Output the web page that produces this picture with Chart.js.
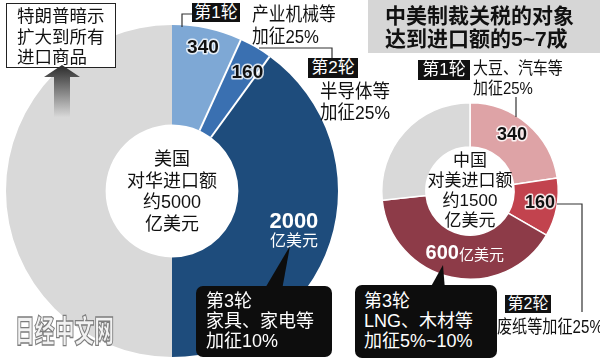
<!DOCTYPE html>
<html><head><meta charset="utf-8">
<script src="https://cdn.jsdelivr.net/npm/chart.js@4/dist/chart.umd.min.js"></script>
<style>
html,body{margin:0;padding:0;background:#fff;}
#wrap{position:relative;width:600px;height:361px;overflow:hidden;font-family:"Liberation Sans","Noto Sans CJK SC",sans-serif;color:#111;}
canvas{position:absolute;left:0;top:0;}
.t{position:absolute;white-space:nowrap;line-height:1;transform-origin:0 0;}
.blk{position:absolute;background:#111;color:#fff;white-space:nowrap;text-align:center;}
.box{position:absolute;background:#0d0d0d;color:#fff;border-radius:7px;white-space:nowrap;}
.center{position:absolute;text-align:center;white-space:nowrap;transform:translate(-50%,-50%);}
svg{position:absolute;left:0;top:0;}
</style></head>
<body>
<div id="wrap">
  <canvas id="us" width="600" height="361"></canvas>
  <canvas id="cn" width="600" height="361"></canvas>
  <svg width="600" height="361" viewBox="0 0 600 361">
    <defs>
      <linearGradient id="ag" x1="0" y1="0" x2="0" y2="1">
        <stop offset="0" stop-color="#2a2a2a"/>
        <stop offset="1" stop-color="#d8d8d8"/>
      </linearGradient>
    </defs>
    <g fill="none" stroke="#333" stroke-width="1.2">
      <polyline points="192,14 182,14 182,27"/>
      <polyline points="259,48 332,48 332,58"/>
      <polyline points="516,97 516,117"/>
      <polyline points="557,204 582,204 582,312"/>
    </g>
    <polygon points="290,246 264,290 282,290" fill="#0d0d0d"/>
    <polygon points="443,265 429,290 445,290" fill="#0d0d0d"/>
  </svg>

  <!-- top-left note -->
  <div style="position:absolute;left:6px;top:3px;width:108px;height:63px;border:1.6px solid #222;background:#fff;"></div>
  <div class="t" style="left:17px;top:5px;font-size:17.5px;line-height:20.5px;font-family:'Noto Sans CJK SC';">特朗普暗示<br>扩大到所有<br>进口商品</div>
  <svg width="600" height="361" viewBox="0 0 600 361">
    <polygon points="62,65 44,77 54,77 54,117 70,117 70,77 80,77" fill="url(#ag)"/>
  </svg>

  <!-- US round labels -->
  <div class="blk" style="left:192px;top:3px;width:48px;height:19px;font-size:17px;line-height:19px;font-family:'Liberation Sans','Noto Sans CJK SC';">第1轮</div>
  <div class="t" style="left:252px;top:4px;font-size:19px;line-height:22px;transform:scaleX(0.88);">产业机械等<br>加征25%</div>
  <div class="blk" style="left:308px;top:58px;width:50px;height:20px;font-size:17px;line-height:20px;">第2轮</div>
  <div class="t" style="left:320px;top:81px;font-size:19px;line-height:21px;transform:scaleX(0.92);">半导体等<br>加征25%</div>

  <div class="box" style="left:196px;top:286px;width:136px;height:71px;">
    <div class="t" style="left:10px;top:5px;font-size:18px;line-height:20px;">第3轮<br>家具、家电等<br>加征10%</div>
  </div>

  <!-- title -->
  <div style="position:absolute;left:368px;top:0;width:232px;height:53px;background:#d6d6d6;"></div>
  <div class="t" style="left:385px;top:3px;font-size:21px;line-height:23px;font-weight:700;font-family:'Noto Sans CJK SC';">中美制裁关税的对象<br><span style="font-family:'Liberation Sans','Noto Sans CJK SC';font-weight:700;">达到进口额的5~7成</span></div>

  <!-- China labels -->
  <div class="blk" style="left:418px;top:60px;width:52px;height:20px;font-size:17px;line-height:20px;">第1轮</div>
  <div class="t" style="left:473px;top:59px;font-size:17px;line-height:20px;transform:scaleX(0.88);">大豆、汽车等<br>加征25%</div>
  <div class="blk" style="left:505px;top:295px;width:46px;height:18px;font-size:16px;line-height:18px;">第2轮</div>
  <div class="t" style="left:497px;top:317px;font-size:18px;line-height:20px;transform:scaleX(0.84);">废纸等加征25%</div>

  <div class="box" style="left:355px;top:285px;width:142px;height:73px;">
    <div class="t" style="left:9px;top:6px;font-size:18px;line-height:20px;">第3轮<br>LNG、木材等<br>加征5%~10%</div>
  </div>

  <div id="usCenter" class="center" style="font-size:18px;line-height:21.5px;">美国<br>对华进口额<br>约5000<br>亿美元</div>
  <div id="cnCenter" class="center" style="font-size:17px;line-height:20px;">中国<br>对美进口额<br>约1500<br>亿美元</div>

  <div class="t" style="left:15px;top:313px;font-size:31px;line-height:31px;font-weight:900;font-family:'Noto Sans CJK SC';color:#f2f2f2;-webkit-text-stroke:1.3px #7d7d7d;transform:scaleX(0.64);">日经中文网</div>
</div>

<script>
// ---- data ----
const categories = ['第1轮', '第2轮', '第3轮', '其余'];
const usValues = [340, 160, 2000, 2500];   // 亿美元, total ≈ 5000
const cnValues = [340, 160, 600, 400];     // 亿美元, total ≈ 1500
const unitLabel = '亿美元';

const usColors = ['#7ea8d5', '#3a70b1', '#1e4c7c', '#d9d9d9'];
const cnColors = ['#dea3a6', '#c2434e', '#8d3b48', '#d9d9d9'];

const sliceLabels = {
  id: 'sliceLabels',
  afterDatasetsDraw(chart, args, opts) {
    const ctx = chart.ctx;
    const meta = chart.getDatasetMeta(0);
    (opts.separators || []).forEach(i => {
      const a = meta.data[i];
      const ang = a.endAngle;
      ctx.save();
      ctx.strokeStyle = '#fff';
      ctx.lineWidth = opts.sepWidth || 2;
      ctx.beginPath();
      ctx.moveTo(a.x + a.innerRadius * Math.cos(ang), a.y + a.innerRadius * Math.sin(ang));
      ctx.lineTo(a.x + a.outerRadius * Math.cos(ang), a.y + a.outerRadius * Math.sin(ang));
      ctx.stroke();
      ctx.restore();
    });
    (opts.labels || []).forEach(spec => {
      const a = meta.data[spec.index];
      const ang = a.startAngle + (a.endAngle - a.startAngle) * spec.af;
      const r = a.innerRadius + (a.outerRadius - a.innerRadius) * spec.rf;
      const cx = a.x + r * Math.cos(ang), cy = a.y + r * Math.sin(ang);
      const n = spec.lines.length;
      spec.lines.forEach((parts, k) => {
        const y = cy + (k - (n - 1) / 2) * spec.lh + (parts.dy || 0);
        let w = 0;
        parts.p.forEach(p => { ctx.font = p.font; w += ctx.measureText(p.text).width; });
        let x = cx - w / 2;
        parts.p.forEach(p => {
          ctx.save();
          ctx.font = p.font;
          ctx.textBaseline = 'middle';
          ctx.textAlign = 'left';
          if (p.halo) {
            ctx.lineWidth = 3; ctx.strokeStyle = p.halo; ctx.lineJoin = 'round';
            ctx.strokeText(p.text, x, y);
          }
          ctx.fillStyle = p.color;
          ctx.fillText(p.text, x, y);
          x += ctx.measureText(p.text).width;
          ctx.restore();
        });
      });
    });
  }
};

const NUMF = 'bold 19px "Liberation Sans", Arial, sans-serif';
const CJK = '"Noto Sans CJK SC", sans-serif';

const usChart = new Chart(document.getElementById('us'), {
  type: 'doughnut',
  data: { labels: categories, datasets: [{ data: usValues, backgroundColor: usColors, borderWidth: 0 }] },
  options: {
    responsive: false, animation: false, cutout: '40%', rotation: 0,
    layout: { padding: { left: 6, top: 25, right: 262, bottom: 4 } },
    plugins: {
      legend: { display: false }, tooltip: { enabled: false },
      sliceLabels: {
        separators: [0, 1], sepWidth: 2,
        labels: [
          { index: 0, af: 0.5, rf: 0.8, lh: 20, lines: [{ p: [{ text: String(usValues[0]), font: NUMF, color: '#111', halo: 'rgba(255,255,255,0.8)' }] }] },
          { index: 1, af: 0.7, rf: 0.74, lh: 20, lines: [{ p: [{ text: String(usValues[1]), font: NUMF, color: '#111', halo: 'rgba(255,255,255,0.8)' }] }] },
          { index: 2, af: 0.5, rf: 0.62, lh: 18, lines: [
            { p: [{ text: String(usValues[2]), font: 'bold 22px "Liberation Sans", Arial, sans-serif', color: '#fff' }] },
            { p: [{ text: unitLabel, font: '16px ' + CJK, color: '#fff' }] }
          ] }
        ]
      }
    }
  },
  plugins: [sliceLabels]
});

const cnChart = new Chart(document.getElementById('cn'), {
  type: 'doughnut',
  data: { labels: categories, datasets: [{ data: cnValues, backgroundColor: cnColors, borderColor: '#fff', borderWidth: 1.5 }] },
  options: {
    responsive: false, animation: false, cutout: '50%', rotation: 0,
    layout: { padding: { left: 381, top: 102, right: 41, bottom: 81 } },
    plugins: {
      legend: { display: false }, tooltip: { enabled: false },
      sliceLabels: {
        labels: [
          { index: 0, af: 0.45, rf: 0.59, lh: 20, lines: [{ p: [{ text: String(cnValues[0]), font: 'bold 18px "Liberation Sans", Arial, sans-serif', color: '#111', halo: 'rgba(255,255,255,0.85)' }] }] },
          { index: 1, af: 0.47, rf: 0.61, lh: 20, lines: [{ p: [{ text: String(cnValues[1]), font: 'bold 18px "Liberation Sans", Arial, sans-serif', color: '#111', halo: 'rgba(255,255,255,0.85)' }] }] },
          { index: 2, af: 0.45, rf: 0.43, lh: 20, lines: [{ p: [
            { text: String(cnValues[2]), font: 'bold 20px "Liberation Sans", Arial, sans-serif', color: '#fff' },
            { text: unitLabel, font: '15px ' + CJK, color: '#fff' }
          ] }] }
        ]
      }
    }
  },
  plugins: [sliceLabels]
});

function placeCenter(chart, id, dy) {
  const a = chart.getDatasetMeta(0).data[0];
  const el = document.getElementById(id);
  el.style.left = a.x + 'px';
  el.style.top = (a.y + dy) + 'px';
}
placeCenter(usChart, 'usCenter', 1);
placeCenter(cnChart, 'cnCenter', 0);
</script>
</body></html>
